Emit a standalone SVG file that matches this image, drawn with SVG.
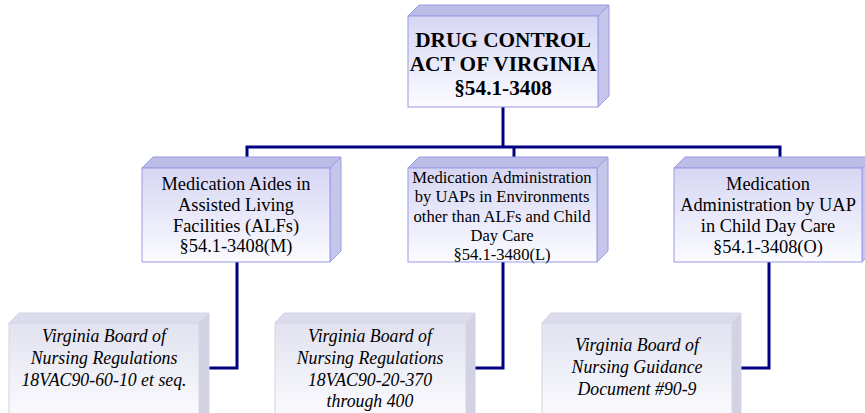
<svg xmlns="http://www.w3.org/2000/svg" width="865" height="413" viewBox="0 0 865 413">
<defs>
<linearGradient id="gFront" x1="0" y1="0" x2="0" y2="1">
<stop offset="0" stop-color="#d6d6f4"/>
<stop offset="1" stop-color="#fbfbff"/>
</linearGradient>
<linearGradient id="gFrontL" x1="0" y1="0" x2="0" y2="1">
<stop offset="0" stop-color="#e2e2f0"/>
<stop offset="1" stop-color="#fcfcff"/>
</linearGradient>
<style>
.front{fill:url(#gFront);stroke:#9a9ae6;stroke-width:1}
.top{fill:#bcbce6;stroke:#9a9ae6;stroke-width:1}
.side{fill:#c6c6ea;stroke:#9a9ae6;stroke-width:1}
.frontL{fill:url(#gFrontL);stroke:#d4d4e4;stroke-width:1}
.topL{fill:#dcdcec;stroke:#d4d4e4;stroke-width:1}
.sideL{fill:#d2d2e2;stroke:#d4d4e4;stroke-width:1}
.conn{fill:none;stroke:#000080;stroke-width:3;stroke-linejoin:miter}
text{font-family:"Liberation Serif","Times New Roman",serif;fill:#000;text-anchor:middle}
.t1{font-size:21.3px;font-weight:bold}
.t2{font-size:18.4px}
.t3{font-size:16.6px}
.t4{font-size:17.8px;font-style:italic}
</style>
</defs>

<g id="connectors">
<path class="conn" d="M503,107 V147"/>
<path class="conn" d="M247,158 V147 H780 V158"/>
<path class="conn" d="M514,147 V158"/>
<path class="conn" d="M237,262 V368 H209"/>
<path class="conn" d="M503,262 V368 H475"/>
<path class="conn" d="M769,262 V368 H741"/>
</g>

<g id="node-drug-control-act">
<polygon class="top" points="408,16 419,5 609,5 598,16"/>
<polygon class="side" points="598,16 609,5 609,96 598,107"/>
<rect class="front" x="408" y="16" width="190" height="91"/>
<text class="t1" x="503" y="47">DRUG CONTROL</text>
<text class="t1" x="503" y="71">ACT OF VIRGINIA</text>
<text class="t1" x="503" y="95">§54.1-3408</text>
</g>

<g id="node-medication-aides">
<polygon class="top" points="142,168 153,157 341,157 330,168"/>
<polygon class="side" points="330,168 341,157 341,251 330,262"/>
<rect class="front" x="142" y="168" width="188" height="94"/>
<text class="t2" x="236" y="190">Medication Aides in</text>
<text class="t2" x="236" y="211">Assisted Living</text>
<text class="t2" x="236" y="232">Facilities (ALFs)</text>
<text class="t2" x="236" y="252">§54.1-3408(M)</text>
</g>

<g id="node-uaps-environments">
<polygon class="top" points="408,168 419,157 608,157 597,168"/>
<polygon class="side" points="597,168 608,157 608,251 597,262"/>
<rect class="front" x="408" y="168" width="189" height="94"/>
<text class="t3" x="502" y="183">Medication Administration</text>
<text class="t3" x="502" y="202">by UAPs in Environments</text>
<text class="t3" x="502" y="222">other than ALFs and Child</text>
<text class="t3" x="502" y="241">Day Care</text>
<text class="t3" x="502" y="260">§54.1-3480(L)</text>
</g>

<g id="node-uap-child-day-care">
<polygon class="top" points="674,168 685,157 873,157 862,168"/>
<polygon class="side" points="862,168 873,157 873,251 862,262"/>
<rect class="front" x="674" y="168" width="188" height="94"/>
<text class="t2" x="768" y="190">Medication</text>
<text class="t2" x="768" y="211">Administration by UAP</text>
<text class="t2" x="768" y="232">in Child Day Care</text>
<text class="t2" x="768" y="253">§54.1-3408(O)</text>
</g>

<g id="node-regs-60">
<polygon class="topL" points="9,323 19,313 209,313 199,323"/>
<polygon class="sideL" points="199,323 209,313 209,420 199,430"/>
<rect class="frontL" x="9" y="323" width="190" height="100"/>
<text class="t4" x="104" y="342">Virginia Board of</text>
<text class="t4" x="104" y="364">Nursing Regulations</text>
<text class="t4" x="104" y="386">18VAC90-60-10 et seq.</text>
</g>

<g id="node-regs-20">
<polygon class="topL" points="275,323 284,313 475,313 466,323"/>
<polygon class="sideL" points="466,323 475,313 475,420 466,430"/>
<rect class="frontL" x="275" y="323" width="191" height="100"/>
<text class="t4" x="370" y="342">Virginia Board of</text>
<text class="t4" x="370" y="364">Nursing Regulations</text>
<text class="t4" x="370" y="386">18VAC90-20-370</text>
<text class="t4" x="370" y="407">through 400</text>
</g>

<g id="node-guidance-doc">
<polygon class="topL" points="542,323 551,313 741,313 732,323"/>
<polygon class="sideL" points="732,323 741,313 741,420 732,430"/>
<rect class="frontL" x="542" y="323" width="190" height="100"/>
<text class="t4" x="637" y="351">Virginia Board of</text>
<text class="t4" x="637" y="373">Nursing Guidance</text>
<text class="t4" x="637" y="395">Document #90-9</text>
</g>
</svg>
